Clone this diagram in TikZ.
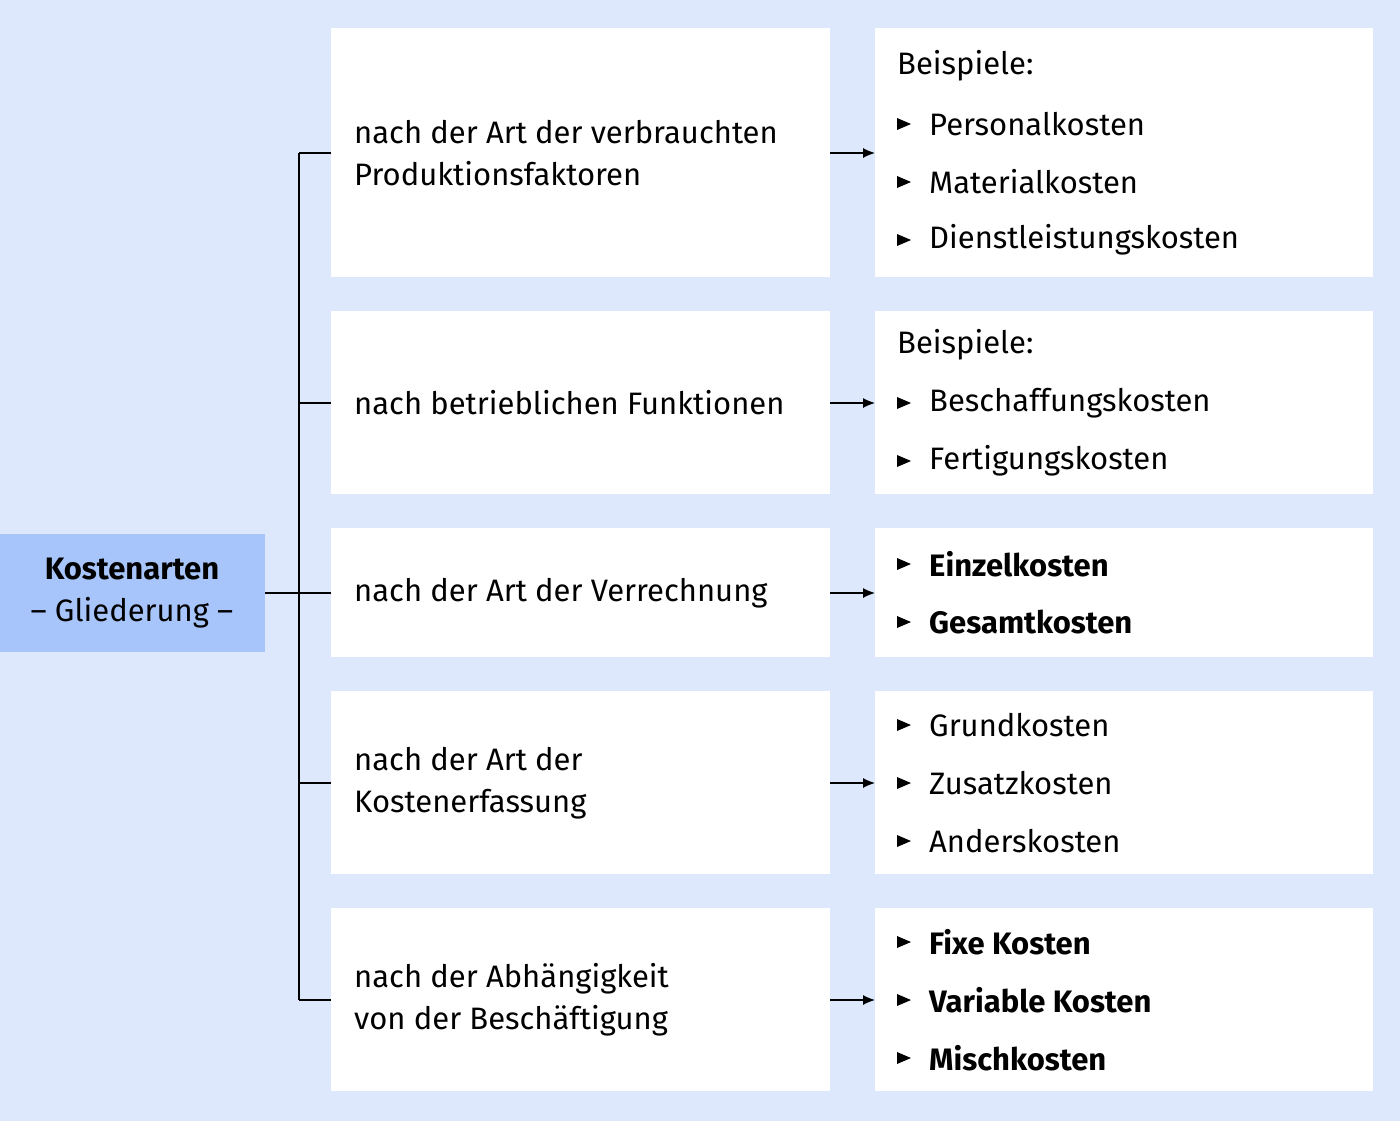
\documentclass[tikz,border=0pt]{standalone}
\usepackage{fontspec}
\setmainfont{Fira Sans}
\definecolor{bg}{HTML}{DDE8FC}
\definecolor{hd}{HTML}{A7C5FA}
\begin{document}
\begin{tikzpicture}[x=1pt,y=-1pt,
  box/.style={fill=white,draw=none},
  txt/.style={anchor=west,inner sep=0,font=\fontsize{31}{42}\selectfont,align=left},
  tri/.style={fill=black},
  con/.style={line width=1.2pt},
  arr/.style={line width=1.2pt,-{Latex[length=12pt,width=10pt]}}]
\usetikzlibrary{arrows.meta}
\fill[bg] (0,0) rectangle (1400,1121);
\useasboundingbox (0,0) rectangle (1400,1121);
\fill[hd] (0,534) rectangle (265,652);
\node (root) at (132,593) [align=center,font=\fontsize{31}{42}\selectfont,inner sep=0] {\textbf{Kostenarten}\\– Gliederung –};
\coordinate (rootE) at (265,593);
\coordinate (tt) at (299,153);
\coordinate (tb) at (299,1000);
\draw[con] (tt) -- (tb);
\draw[con] (rootE) -- (299,593);
\foreach \i/\a/\b/\m in {1/28/277/153, 2/311/494/403, 3/528/657/593, 4/691/874/783, 5/908/1091/1000}{
  \fill[white] (331,\a) rectangle (830,\b);
  \fill[white] (875,\a) rectangle (1373,\b);
  \coordinate (mL\i) at (331,\m);
  \coordinate (mR\i) at (830,\m);
  \coordinate (rL\i) at (875,\m);
  \draw[con] (299,\m) -- (mL\i);
  \draw[arr] (mR\i) -- (rL\i);
}
\node[txt] (m1) at (354,153) {nach der Art der verbrauchten\\Produktionsfaktoren};
\node[txt] (m2) at (354,403) {nach betrieblichen Funktionen};
\node[txt] (m3) at (354,593) {nach der Art der Verrechnung};
\node[txt] (m4) at (354,783) {nach der Art der\\Kostenerfassung};
\node[txt] (m5) at (354,1000) {nach der Abhängigkeit\\von der Beschäftigung};
\newcommand{\itm}[3]{\fill (897,#1-6) -- (911,#1) -- (897,#1+6) -- cycle; \node[txt] (#2) at (929,#1) {#3};}
\node[txt] (b1) at (897,66) {Beispiele:};
\itm{124}{r11}{Personalkosten}
\itm{182}{r12}{Materialkosten}
\itm{240}{r13}{Dienstleistungskosten}
\node[txt] (b2) at (897,345) {Beispiele:};
\itm{403}{r21}{Beschaffungskosten}
\itm{461}{r22}{Fertigungskosten}
\itm{564}{r31}{\textbf{Einzelkosten}}
\itm{622}{r32}{\textbf{Gesamtkosten}}
\itm{725}{r41}{Grundkosten}
\itm{783}{r42}{Zusatzkosten}
\itm{841}{r43}{Anderskosten}
\itm{942}{r51}{\textbf{Fixe Kosten}}
\itm{1000}{r52}{\textbf{Variable Kosten}}
\itm{1058}{r53}{\textbf{Mischkosten}}
\end{tikzpicture}
\end{document}
